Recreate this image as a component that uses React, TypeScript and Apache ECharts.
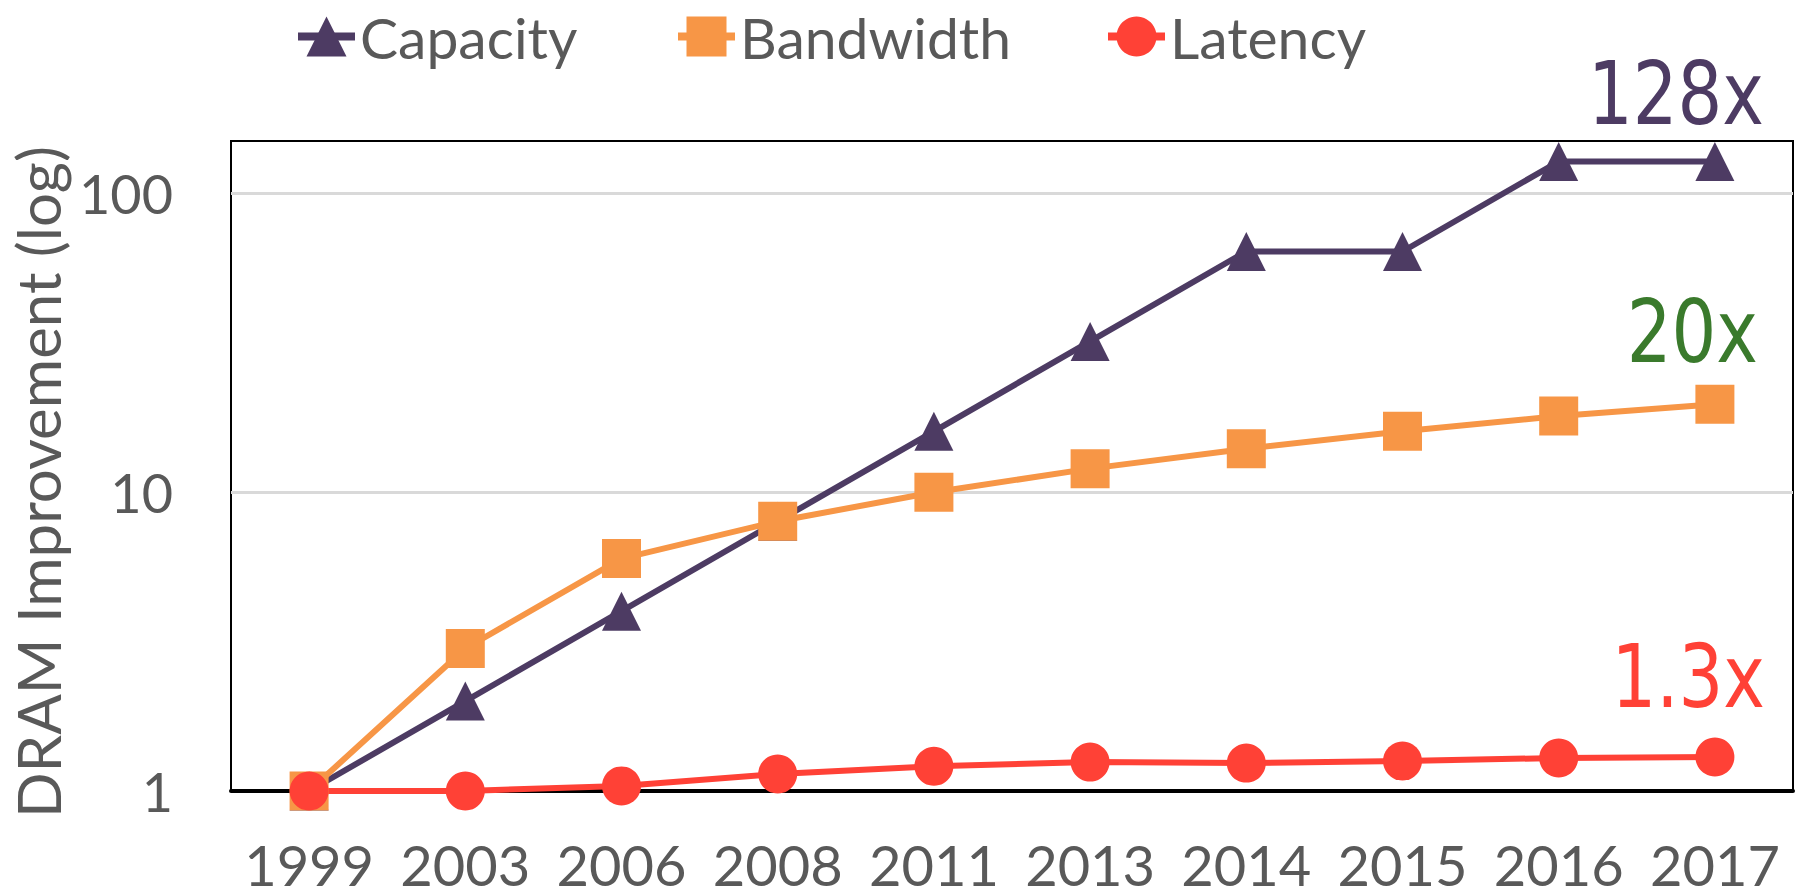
import React, { useEffect, useRef } from "react";
import * as echarts from "echarts";

const years = ["1999", "2003", "2006", "2008", "2011", "2013", "2014", "2015", "2016", "2017"];
const capacity = [1, 2, 4, 8, 16, 32, 64, 64, 128, 128];
const bandwidth = [1, 3, 6, 8, 10, 12, 14, 16, 18, 19.7];
const latency = [1, 1, 1.04, 1.14, 1.21, 1.25, 1.24, 1.26, 1.29, 1.3];
const yTickLabels = ["1", "10", "100"];
const annotations = [
  { text: "128x", color: "#4D3B63", x: 1764, y: 94 },
  { text: "20x", color: "#3A7A2C", x: 1758, y: 332 },
  { text: "1.3x", color: "#FF4136", x: 1765, y: 677 },
];

const PURPLE = "#4D3B63";
const ORANGE = "#F79646";
const RED = "#FF4136";
const GRAY = "#595959";
const FONT = "Lato";

export default function App() {
  const ref = useRef<HTMLDivElement>(null);
  useEffect(() => {
    if (!ref.current) return;
    const chart = echarts.init(ref.current, null, { renderer: "svg" });
    const legendBase = {
      top: 8,
      padding: 0,
      itemWidth: 57,
      itemHeight: 50,
      itemGap: 0,
      lineStyle: { width: 8 },
      textStyle: { fontFamily: FONT, fontSize: 57, color: GRAY },
    };
    const mk = (name: string, data: number[], color: string, symbol: string) => ({
      name,
      type: "line",
      data,
      symbol,
      symbolSize: 39,
      showSymbol: true,
      lineStyle: { color, width: 6 },
      itemStyle: { color },
      emphasis: { disabled: true },
    });
    chart.setOption({
      animation: false,
      legend: [
        { ...legendBase, left: 294, data: ["Capacity"] },
        { ...legendBase, left: 674, data: ["Bandwidth"] },
        { ...legendBase, left: 1104, data: ["Latency"] },
      ],
      grid: {
        left: 231,
        right: 13,
        top: 141,
        bottom: 105,
        show: true,
        borderColor: "#000",
        borderWidth: 2,
        containLabel: false,
        outerBoundsMode: "none",
      },
      xAxis: {
        type: "category",
        data: years,
        boundaryGap: true,
        axisLine: { show: true, lineStyle: { color: "#000", width: 4 } },
        axisTick: { show: false },
        axisLabel: {
          interval: 0,
          fontFamily: FONT,
          fontSize: 56,
          lineHeight: 46,
          color: GRAY,
          margin: 50,
        },
        splitLine: { show: false },
      },
      yAxis: {
        type: "log",
        logBase: 10,
        min: 1,
        max: 150,
        name: "DRAM Improvement (log)",
        nameLocation: "middle",
        nameRotate: 90,
        nameGap: 162,
        nameTextStyle: { fontFamily: FONT, fontSize: 60, color: GRAY, padding: [0, 32, 0, 0] },
        axisLine: { show: false },
        axisTick: { show: false },
        axisLabel: {
          fontFamily: FONT,
          fontSize: 54,
          color: GRAY,
          margin: 58,
          showMaxLabel: false,
          formatter: (v: number) => {
            const idx = Math.round(Math.log10(v));
            return Math.abs(Math.log10(v) - idx) < 1e-6 ? yTickLabels[idx] ?? "" : "";
          },
        },
        splitLine: {
          show: true,
          showMinLine: false,
          showMaxLine: false,
          lineStyle: { color: "#D9D9D9", width: 3 },
        },
      },
      series: [
        mk("Capacity", capacity, PURPLE, "triangle"),
        mk("Bandwidth", bandwidth, ORANGE, "rect"),
        mk("Latency", latency, RED, "circle"),
      ],
      graphic: annotations.map((a) => ({
        type: "text",
        x: a.x,
        y: a.y,
        scaleX: 0.8,
        style: {
          text: a.text,
          fontFamily: "DejaVu Sans",
          fontSize: 88,
          fill: a.color,
          align: "right",
          verticalAlign: "middle",
          textAlign: "right",
          textVerticalAlign: "middle",
        },
      })),
    });
    return () => chart.dispose();
  }, []);
  return (
    <div
      ref={ref}
      style={{ position: "absolute", left: 0, top: 0, width: 1806, height: 896, background: "#fff" }}
    />
  );
}
